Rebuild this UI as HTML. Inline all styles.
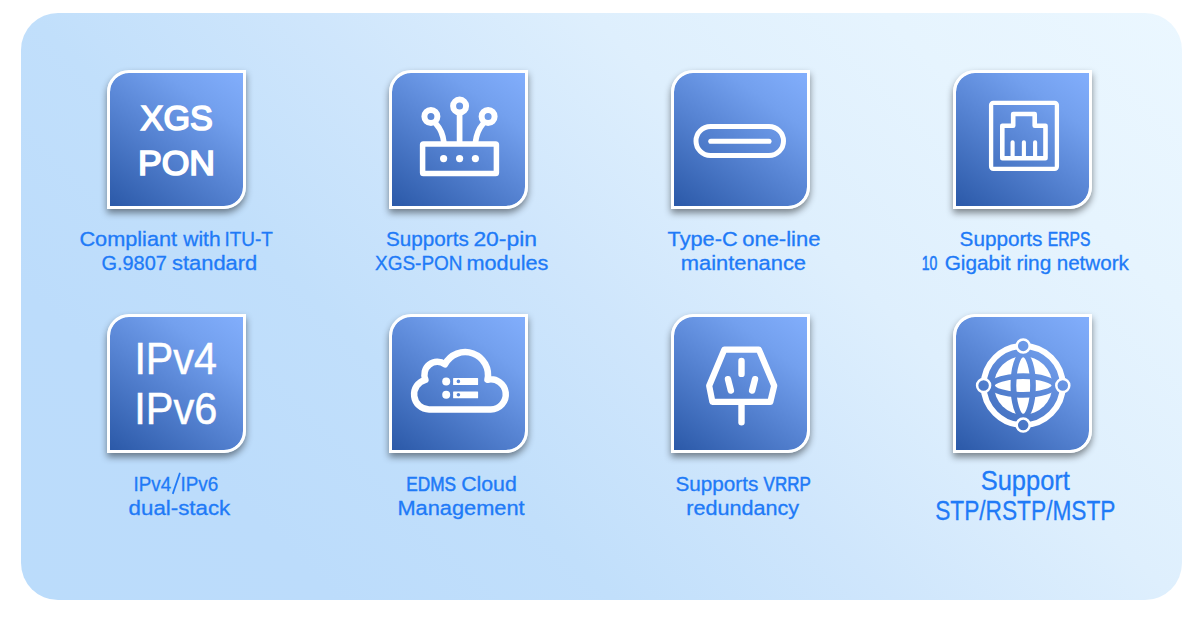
<!DOCTYPE html>
<html><head><meta charset="utf-8"><title>Features</title>
<style>
html,body{margin:0;padding:0;background:#fff;}
body{width:1200px;height:618px;position:relative;overflow:hidden;font-family:"Liberation Sans",sans-serif;}
.panel{position:absolute;left:21px;top:13px;width:1161px;height:587px;border-radius:37px;
 background:linear-gradient(45deg,#bbdcfb 0%,#bcdcfb 18%,#c1dffb 34%,#cfe6fc 50%,#deeffd 66%,#e6f4fe 83%,#ebf7ff 100%);}
.tile{position:absolute;width:133px;height:133px;border:3px solid #fff;border-radius:22px 0 22px 0;
 background:linear-gradient(36deg,#2b59a8 0%,#5b88d7 50%,#73a0ee 75%,#82aefc 100%);background-clip:padding-box;
 box-shadow:0 4px 7px rgba(0,0,0,0.45);}
svg{position:absolute;left:0;top:0;}
text{font-family:"Liberation Sans",sans-serif;}
</style></head><body>
<div class="panel"></div>
<div class="tile" style="left:107.0px;top:70.0px"></div>
<div class="tile" style="left:388.8px;top:70.0px"></div>
<div class="tile" style="left:670.7px;top:70.0px"></div>
<div class="tile" style="left:952.7px;top:70.0px"></div>
<div class="tile" style="left:107.0px;top:313.8px"></div>
<div class="tile" style="left:388.8px;top:313.8px"></div>
<div class="tile" style="left:670.7px;top:313.8px"></div>
<div class="tile" style="left:952.7px;top:313.8px"></div>
<svg width="1200" height="618" viewBox="0 0 1200 618">
<text x="140.60" y="130.15" font-size="35.0" textLength="72.20" lengthAdjust="spacingAndGlyphs" fill="#fff" stroke="#fff" stroke-width="1.7" stroke-linejoin="miter">XGS</text>
<text x="137.90" y="174.95" font-size="35.0" textLength="77.20" lengthAdjust="spacingAndGlyphs" fill="#fff" stroke="#fff" stroke-width="1.7" stroke-linejoin="miter">PON</text>
<text x="134.40" y="373.60" font-size="43.6" textLength="82.40" lengthAdjust="spacingAndGlyphs" fill="#fff" stroke="#fff" stroke-width="0.5">IPv4</text>
<text x="134.30" y="423.90" font-size="43.6" textLength="83.00" lengthAdjust="spacingAndGlyphs" fill="#fff" stroke="#fff" stroke-width="0.5">IPv6</text>
<text x="79.40" y="246.25" font-size="19.7" textLength="97.70" lengthAdjust="spacingAndGlyphs" fill="#207af7" stroke="#207af7" stroke-width="0.3">Compliant</text>
<text x="183.30" y="246.25" font-size="19.7" textLength="37.30" lengthAdjust="spacingAndGlyphs" fill="#207af7" stroke="#207af7" stroke-width="0.3">with</text>
<text x="224.50" y="246.25" font-size="19.7" textLength="48.40" lengthAdjust="spacingAndGlyphs" fill="#207af7" stroke="#207af7" stroke-width="0.3">ITU-T</text>
<text x="101.45" y="270.30" font-size="19.7" textLength="65.40" lengthAdjust="spacingAndGlyphs" fill="#207af7" stroke="#207af7" stroke-width="0.3">G.9807</text>
<text x="172.00" y="270.30" font-size="19.7" textLength="85.30" lengthAdjust="spacingAndGlyphs" fill="#207af7" stroke="#207af7" stroke-width="0.3">standard</text>
<text x="386.10" y="246.25" font-size="19.7" textLength="82.70" lengthAdjust="spacingAndGlyphs" fill="#207af7" stroke="#207af7" stroke-width="0.3">Supports</text>
<text x="473.40" y="246.25" font-size="19.7" textLength="63.60" lengthAdjust="spacingAndGlyphs" fill="#207af7" stroke="#207af7" stroke-width="0.3">20-pin</text>
<text x="375.00" y="270.30" font-size="19.7" textLength="87.50" lengthAdjust="spacingAndGlyphs" fill="#207af7" stroke="#207af7" stroke-width="0.3">XGS-PON</text>
<text x="466.50" y="270.30" font-size="19.7" textLength="81.90" lengthAdjust="spacingAndGlyphs" fill="#207af7" stroke="#207af7" stroke-width="0.3">modules</text>
<text x="667.60" y="246.25" font-size="19.7" textLength="70.00" lengthAdjust="spacingAndGlyphs" fill="#207af7" stroke="#207af7" stroke-width="0.3">Type-C</text>
<text x="742.20" y="246.25" font-size="19.7" textLength="78.20" lengthAdjust="spacingAndGlyphs" fill="#207af7" stroke="#207af7" stroke-width="0.3">one-line</text>
<text x="680.80" y="270.30" font-size="19.7" textLength="125.20" lengthAdjust="spacingAndGlyphs" fill="#207af7" stroke="#207af7" stroke-width="0.3">maintenance</text>
<text x="959.60" y="246.25" font-size="19.7" textLength="82.90" lengthAdjust="spacingAndGlyphs" fill="#207af7" stroke="#207af7" stroke-width="0.3">Supports</text>
<text x="1047.80" y="246.25" font-size="19.7" textLength="42.50" lengthAdjust="spacingAndGlyphs" fill="#207af7" stroke="#207af7" stroke-width="0.55">ERPS</text>
<text x="921.80" y="270.30" font-size="19.7" textLength="15.60" lengthAdjust="spacingAndGlyphs" fill="#207af7" stroke="#207af7" stroke-width="0.55">10</text>
<text x="944.70" y="270.30" font-size="19.7" textLength="65.90" lengthAdjust="spacingAndGlyphs" fill="#207af7" stroke="#207af7" stroke-width="0.3">Gigabit</text>
<text x="1016.50" y="270.30" font-size="19.7" textLength="34.80" lengthAdjust="spacingAndGlyphs" fill="#207af7" stroke="#207af7" stroke-width="0.3">ring</text>
<text x="1056.70" y="270.30" font-size="19.7" textLength="72.10" lengthAdjust="spacingAndGlyphs" fill="#207af7" stroke="#207af7" stroke-width="0.3">network</text>
<text x="133.50" y="490.50" font-size="19.7" textLength="37.60" lengthAdjust="spacingAndGlyphs" fill="#207af7" stroke="#207af7" stroke-width="0.3">IPv4</text>
<text x="180.40" y="490.50" font-size="19.7" textLength="37.80" lengthAdjust="spacingAndGlyphs" fill="#207af7" stroke="#207af7" stroke-width="0.3">IPv6</text>
<text x="128.60" y="514.55" font-size="19.7" textLength="101.60" lengthAdjust="spacingAndGlyphs" fill="#207af7" stroke="#207af7" stroke-width="0.3">dual-stack</text>
<text x="406.20" y="490.50" font-size="19.7" textLength="49.80" lengthAdjust="spacingAndGlyphs" fill="#207af7" stroke="#207af7" stroke-width="0.55">EDMS</text>
<text x="461.20" y="490.50" font-size="19.7" textLength="55.60" lengthAdjust="spacingAndGlyphs" fill="#207af7" stroke="#207af7" stroke-width="0.3">Cloud</text>
<text x="397.40" y="514.55" font-size="19.7" textLength="127.20" lengthAdjust="spacingAndGlyphs" fill="#207af7" stroke="#207af7" stroke-width="0.3">Management</text>
<text x="675.60" y="490.50" font-size="19.7" textLength="82.70" lengthAdjust="spacingAndGlyphs" fill="#207af7" stroke="#207af7" stroke-width="0.3">Supports</text>
<text x="763.60" y="490.50" font-size="19.7" textLength="47.10" lengthAdjust="spacingAndGlyphs" fill="#207af7" stroke="#207af7" stroke-width="0.55">VRRP</text>
<text x="686.30" y="514.55" font-size="19.7" textLength="112.80" lengthAdjust="spacingAndGlyphs" fill="#207af7" stroke="#207af7" stroke-width="0.3">redundancy</text>
<text x="980.70" y="489.60" font-size="27.0" textLength="89.20" lengthAdjust="spacingAndGlyphs" fill="#207af7" stroke="#207af7" stroke-width="0.3">Support</text>
<text x="935.15" y="520.30" font-size="27.0" textLength="180.35" lengthAdjust="spacingAndGlyphs" fill="#207af7" stroke="#207af7" stroke-width="0.3">STP/RSTP/MSTP</text>
<path d="M172.75 493.9L179.95 472.9" stroke="#207af7" stroke-width="1.75" fill="none"/>
<defs>
<mask id="mglobe" maskUnits="userSpaceOnUse" x="975" y="336" width="98" height="100">
 <rect x="975" y="336" width="98" height="100" fill="#fff"/>
 <g fill="none" stroke="#000" stroke-width="5.7">
  <ellipse cx="1023.2" cy="385.5" rx="9.8" ry="31.2"/>
  <ellipse cx="1023.2" cy="385.5" rx="31.2" ry="9.3"/>
 </g>
</mask>
<mask id="mring" maskUnits="userSpaceOnUse" x="970" y="330" width="108" height="110">
 <rect x="970" y="330" width="108" height="110" fill="#fff"/>
 <g fill="#000">
  <circle cx="1023.2" cy="345.9" r="6.5"/><circle cx="1023.2" cy="425.1" r="6.5"/><circle cx="983.6" cy="385.5" r="6.5"/><circle cx="1062.8" cy="385.5" r="6.5"/>
 </g>
</mask>
</defs>
<g fill="none" stroke="#fff" stroke-linecap="round" stroke-linejoin="round">
<!-- router -->
<rect x="422.6" y="144" width="73.8" height="29.6" rx="0.8" stroke-width="5.5"/>
<circle cx="459.6" cy="106.1" r="6.5" stroke-width="6"/>
<circle cx="430.9" cy="116.5" r="6.5" stroke-width="6"/>
<circle cx="488.1" cy="116.5" r="6.5" stroke-width="6"/>
<path d="M459.6 114.5V142" stroke-width="5.7"/>
<path d="M436.5 124.5Q442.5 131 443.8 142" stroke-width="5.7"/>
<path d="M482.5 124.5Q476.9 131 475.5 142" stroke-width="5.7"/>
<!-- usb-c -->
<rect x="696" y="126.5" width="87.5" height="29" rx="14.5" stroke-width="5"/>
<path d="M710.8 141.3H769" stroke-width="5.1"/>
<!-- rj45 -->
<rect x="991.1" y="102.8" width="65.8" height="66" rx="2.2" stroke-width="4.3"/>
<path d="M1002.3 158.3V125.8H1013.2V114H1034.7V125.8H1045.5V158.3Z" stroke-width="4.6"/>
<path d="M1012.6 142.2V157M1023.9 142.2V157M1035.1 142.2V157" stroke-width="4.1"/>
<!-- plug -->
<path d="M724.3 349.6H758.9L774.2 385.8L770.3 401.9H712.4L709.2 385.8Z" stroke-width="6.2"/>
<path d="M741.5 403.5V422.2" stroke-width="6.4"/>
<path d="M741.5 361V373.9" stroke-width="6.4"/>
<path d="M728 379.2L730.9 390.6" stroke-width="6.4"/>
<path d="M755 379.2L752.1 390.6" stroke-width="6.4"/>
<!-- cloud -->
<path d="M429.10 409.40A15 15 0 0 1 425.42 379.86A13 13 0 0 1 445.03 364.27A22.8 22.8 0 0 1 487.47 379.77A15 15 0 1 1 490.80 409.40Z" stroke-width="6.5"/>
<!-- globe ring + nodes -->
<circle cx="1023.2" cy="385.5" r="39.6" stroke-width="6" mask="url(#mring)"/>
<g stroke-width="2.5">
 <circle cx="1023.2" cy="345.9" r="6.5"/><circle cx="1023.2" cy="425.1" r="6.5"/><circle cx="983.6" cy="385.5" r="6.5"/><circle cx="1062.8" cy="385.5" r="6.5"/>
</g>
</g>
<g fill="#fff">
<circle cx="443.6" cy="158.6" r="3.6"/><circle cx="459.6" cy="158.6" r="3.6"/><circle cx="475.4" cy="158.6" r="3.6"/>
<!-- globe disc -->
<circle cx="1023.2" cy="385.5" r="29.2" mask="url(#mglobe)"/>
<!-- server rows -->
<circle cx="446.2" cy="381.4" r="4"/><circle cx="446.2" cy="394.8" r="4"/>
<path fill-rule="evenodd" d="M453.6 377.9H477.6Q478.1 377.9 478.1 378.4V384.4Q478.1 384.9 477.6 384.9H453.6Q453.1 384.9 453.1 384.4V378.4Q453.1 377.9 453.6 377.9ZM460.2 381.4a1.8 1.8 0 1 0-3.6 0a1.8 1.8 0 1 0 3.6 0Z"/>
<path fill-rule="evenodd" d="M453.6 391.4H477.6Q478.1 391.4 478.1 391.9V397.7Q478.1 398.2 477.6 398.2H453.6Q453.1 398.2 453.1 397.7V391.9Q453.1 391.4 453.6 391.4ZM460.2 394.8a1.8 1.8 0 1 0-3.6 0a1.8 1.8 0 1 0 3.6 0Z"/>
</g>
</svg>
</body></html>
